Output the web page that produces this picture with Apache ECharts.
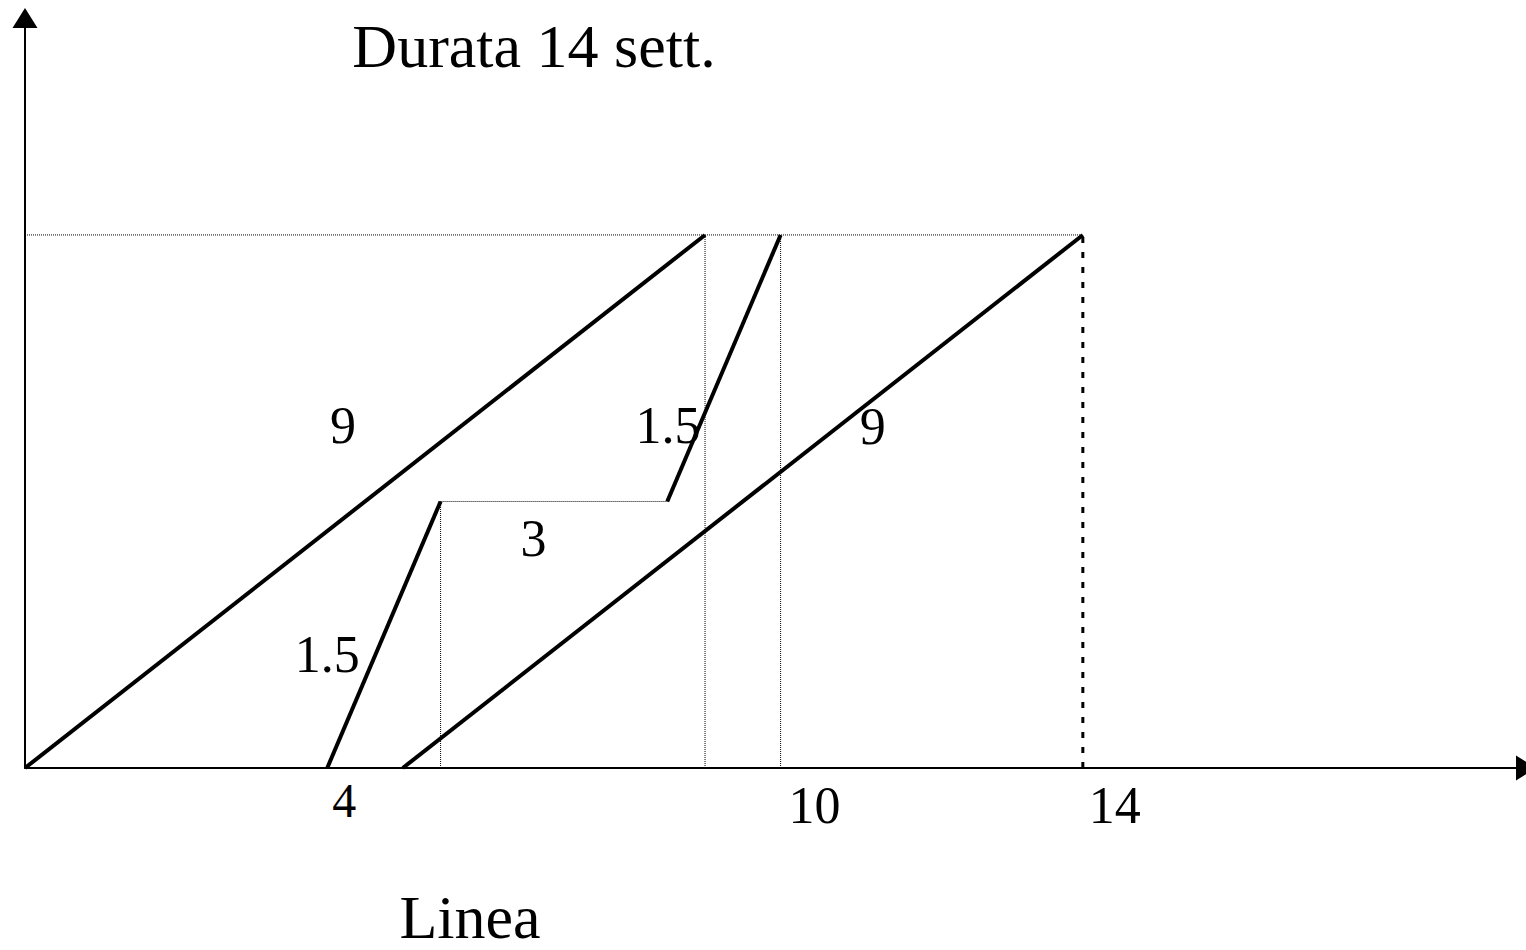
<!DOCTYPE html>
<html>
<head>
<meta charset="utf-8">
<title>Durata 14 sett.</title>
<script src="https://cdn.jsdelivr.net/npm/echarts@6/dist/echarts.min.js"></script>
<style>
  html, body { margin: 0; padding: 0; background: #fff; }
  #chart { width: 1526px; height: 950px; }
</style>
</head>
<body>
<div id="chart"></div>
<script>
// phases (weeks on x, level 0..1 on y)
const phaseStartWeek = [0, 4, 5, 8.5];
const phaseEndWeek = [9, 5.5, 14, 10];
const phaseStartLevel = [0, 0, 0, 0.5];
const phaseEndLevel = [1, 0.5, 1, 1];

// duration labels written next to the phases
const durationText = ['9', '1.5', '9', '1.5', '3'];
const durationWeek = [4.21, 8.51, 11.22, 4.0, 6.73];
const durationLevel = [0.643, 0.643, 0.641, 0.212, 0.43];

// thin dotted guides
const guideVertWeek = [5.5, 9, 10];
const guideVertTop = [0.5, 1, 1];
const guideHorLevel = [1, 0.5];
const guideHorFrom = [0, 5.5];
const guideHorTo = [14, 8.5];

// dashed end marker
const endWeek = 14;

const tickValues = [4, 10, 14];
const xMax = 19.865;
const yMax = 1.407;

const chart = echarts.init(document.getElementById('chart'), null, { renderer: 'svg' });

const serif = '"Liberation Serif", "Times New Roman", serif';

const series = [];

// guides first so the thick lines sit on top
guideVertWeek.forEach((w, i) => {
  series.push({
    type: 'line', silent: true, showSymbol: false, z: 1,
    data: [[w, 0], [w, guideVertTop[i]]],
    lineStyle: { color: '#000', width: 1, type: [1, 1] }
  });
});
guideHorLevel.forEach((lv, i) => {
  series.push({
    type: 'line', silent: true, showSymbol: false, z: 1,
    data: [[guideHorFrom[i], lv], [guideHorTo[i], lv]],
    lineStyle: { color: '#000', width: 1, type: [1, 1] }
  });
});
series.push({
  type: 'line', silent: true, showSymbol: false, z: 1,
  data: [[endWeek, 0], [endWeek, 1]],
  lineStyle: { color: '#000', width: 3, type: [6, 9] }
});

phaseStartWeek.forEach((w, i) => {
  series.push({
    type: 'line', silent: true, showSymbol: false, z: 3,
    data: [[w, phaseStartLevel[i]], [phaseEndWeek[i], phaseEndLevel[i]]],
    lineStyle: { color: '#000', width: 4 }
  });
});

// labels
series.push({
  type: 'scatter', silent: true, symbolSize: 0, z: 4,
  itemStyle: { opacity: 1, color: '#000' },
  data: durationText.map((t, i) => [durationWeek[i], durationLevel[i], t]),
  label: {
    show: true, position: 'inside',
    formatter: p => p.value[2],
    color: '#000', opacity: 1, fontFamily: serif, fontSize: 52
  }
});

const arrowAxisLine = {
  show: true,
  symbol: ['none', 'triangle'],
  symbolSize: [25, 20],
  lineStyle: { color: '#000', width: 2 }
};

const option = {
  animation: false,
  backgroundColor: '#fff',
  grid: { left: 25, top: 18, right: 0, bottom: 182, containLabel: false },
  xAxis: {
    type: 'value', min: 0, max: xMax,
    axisLine: arrowAxisLine,
    axisTick: { show: false },
    splitLine: { show: false },
    axisLabel: {
      show: true,
      customValues: tickValues,
      margin: 37,
      verticalAlign: 'middle',
      formatter: v => (v === 4 ? '{s|4}' : v === 10 ? '{b|10}' : '{c|' + v + '}'),
      rich: {
        s: { fontFamily: serif, fontSize: 48, color: '#000', padding: [0, 0, 9, 34] },
        b: { fontFamily: serif, fontSize: 52, color: '#000', padding: [0, 0, 0, 68] },
        c: { fontFamily: serif, fontSize: 52, color: '#000', padding: [0, 0, 0, 64] }
      }
    }
  },
  yAxis: {
    type: 'value', min: 0, max: yMax,
    axisLine: arrowAxisLine,
    axisTick: { show: false },
    axisLabel: { show: false },
    splitLine: { show: false }
  },
  graphic: [
    {
      type: 'text', x: 534, y: 46,
      style: { text: 'Durata 14 sett.', fontFamily: serif, fontSize: 62, fill: '#000', align: 'center', verticalAlign: 'middle' }
    },
    {
      type: 'text', x: 470, y: 917,
      style: { text: 'Linea', fontFamily: serif, fontSize: 62, fill: '#000', align: 'center', verticalAlign: 'middle' }
    }
  ],
  series: series
};

chart.setOption(option);
</script>
</body>
</html>
